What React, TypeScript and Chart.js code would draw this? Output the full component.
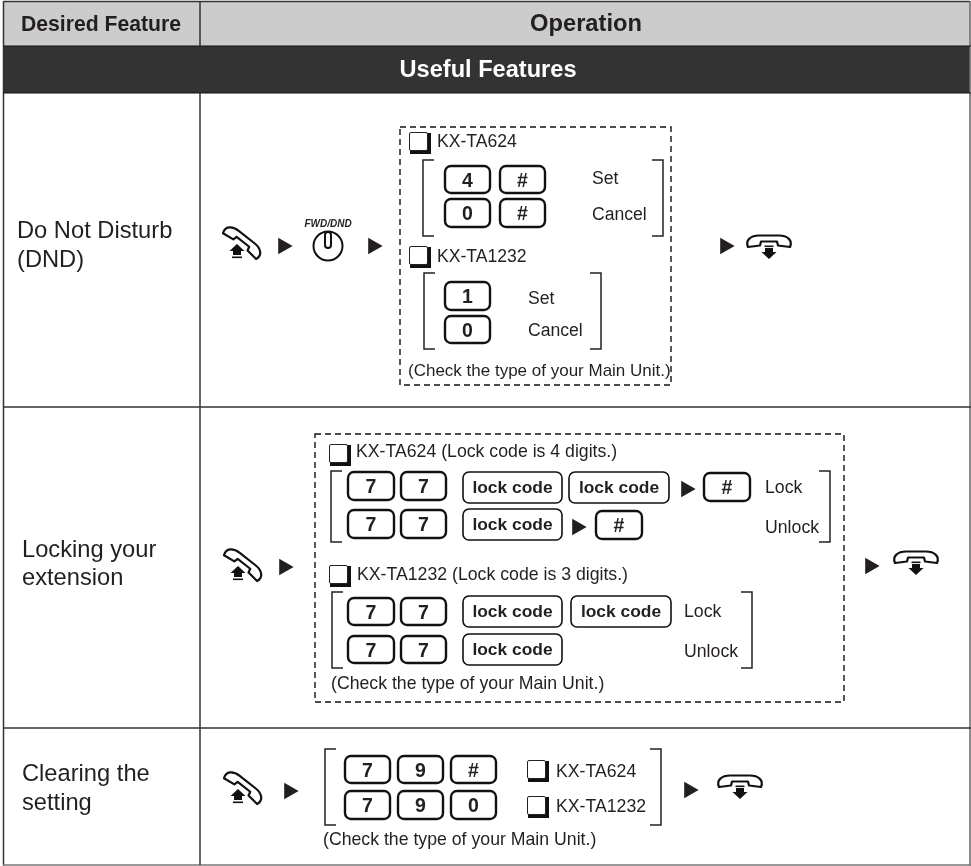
import React, { useEffect, useRef } from "react";
import { Chart, registerables } from "chart.js";

Chart.register(...registerables);

// ---- content ----
const columnTitles = ["Desired Feature", "Operation"];
const sectionTitle = "Useful Features";
const featureLabels = [
  ["Do Not Disturb", "(DND)"],
  ["Locking your", "extension"],
  ["Clearing the", "setting"],
];
const modelNames = ["KX-TA624", "KX-TA1232"];
const lockModelNotes = ["KX-TA624 (Lock code is 4 digits.)", "KX-TA1232 (Lock code is 3 digits.)"];
const actionWords = ["Set", "Cancel", "Lock", "Unlock"];
const checkNote = "(Check the type of your Main Unit.)";
const lockCodeLabel = "lock code";
const buttonLabel = "FWD/DND";

// step arrows between operation stages
const stepArrowX = [283, 373, 725, 284, 686, 577, 870, 289, 689];
const stepArrowY = [246, 246, 246, 567, 489, 527, 566, 791, 790];

const INK = "#231f20";
const SANS = '"Liberation Sans", Arial, sans-serif';

function App() {
  const ref = useRef<HTMLCanvasElement>(null);
  useEffect(() => {
    const tablePlugin = {
      id: "tablePlugin",
      beforeDatasetsDraw(chart: any) {
        const c: CanvasRenderingContext2D = chart.ctx;
        const X = (v: number) => chart.scales.x.getPixelForValue(v);
        const Y = (v: number) => chart.scales.y.getPixelForValue(v);

        const text = (s: string, x: number, y: number, font: string, align: CanvasTextAlign = "left", color = INK) => {
          c.font = font;
          c.fillStyle = color;
          c.textAlign = align;
          c.textBaseline = "alphabetic";
          c.fillText(s, X(x), Y(y));
        };
        const line = (x1: number, y1: number, x2: number, y2: number, w = 1.5, col = "#333") => {
          c.beginPath();
          c.strokeStyle = col;
          c.lineWidth = w;
          c.moveTo(X(x1), Y(y1));
          c.lineTo(X(x2), Y(y2));
          c.stroke();
        };
        const rect = (x: number, y: number, w: number, h: number, col: string) => {
          c.fillStyle = col;
          c.fillRect(X(x), Y(y), w, h);
        };
        const key = (s: string, x1: number, y1: number, x2: number, y2: number) => {
          c.beginPath();
          c.roundRect(X(x1), Y(y1), x2 - x1, y2 - y1, 6);
          c.strokeStyle = "#111";
          c.lineWidth = 2.4;
          c.stroke();
          text(s, (x1 + x2) / 2, (y1 + y2) / 2 + 7, `bold 19.5px ${SANS}`, "center");
        };
        const lock = (x1: number, y1: number, x2: number, y2: number) => {
          c.beginPath();
          c.roundRect(X(x1), Y(y1), x2 - x1, y2 - y1, 6);
          c.strokeStyle = "#111";
          c.lineWidth = 1.6;
          c.stroke();
          text(lockCodeLabel, (x1 + x2) / 2, (y1 + y2) / 2 + 5, `bold 17.4px ${SANS}`, "center");
        };
        const check = (x1: number, y1: number) => {
          rect(x1 + 1, y1 + 1, 21, 21, "#111");
          c.fillStyle = "#fff";
          c.strokeStyle = "#222";
          c.lineWidth = 1;
          c.beginPath();
          c.roundRect(X(x1) + 0.5, Y(y1) + 0.5, 18, 18, 1.5);
          c.fill();
          c.stroke();
        };
        const bracket = (x1: number, x2: number, y1: number, y2: number, dir: number) => {
          const arm = 11 * dir;
          const outer = dir > 0 ? x1 : x2;
          c.beginPath();
          c.strokeStyle = "#222";
          c.lineWidth = 1.5;
          c.moveTo(X(outer + arm), Y(y1));
          c.lineTo(X(outer), Y(y1));
          c.lineTo(X(outer), Y(y2));
          c.lineTo(X(outer + arm), Y(y2));
          c.stroke();
        };
        const brackets = (xl: number, xr: number, y1: number, y2: number) => {
          bracket(xl, xl + 11, y1, y2, 1);
          bracket(xr - 11, xr, y1, y2, -1);
        };
        const dashed = (x1: number, y1: number, x2: number, y2: number) => {
          c.save();
          c.setLineDash([6, 4]);
          c.strokeStyle = "#111";
          c.lineWidth = 1.4;
          c.strokeRect(X(x1), Y(y1), x2 - x1, y2 - y1);
          c.restore();
        };
        const handsetShape = () => {
          c.beginPath();
          c.moveTo(-21, 4);
          c.bezierCurveTo(-24, -3, -18, -7.5, -10, -7.5);
          c.lineTo(10, -7.5);
          c.bezierCurveTo(18, -7.5, 24, -3, 21, 4);
          c.lineTo(9, 2.5);
          c.lineTo(8, -1.5);
          c.lineTo(-8, -1.5);
          c.lineTo(-9, 2.5);
          c.closePath();
          c.fillStyle = "#fff";
          c.strokeStyle = "#111";
          c.lineWidth = 2.2;
          c.lineJoin = "round";
          c.fill();
          c.stroke();
        };
        const liftPhone = (cx: number, cy: number) => {
          c.save();
          c.translate(X(cx), Y(cy));
          c.rotate((38 * Math.PI) / 180);
          handsetShape();
          c.restore();
          c.fillStyle = "#111";
          const ax = X(cx - 5);
          const ay = Y(cy + 1);
          c.beginPath();
          c.moveTo(ax, ay);
          c.lineTo(ax + 7.5, ay + 7);
          c.lineTo(ax + 4, ay + 7);
          c.lineTo(ax + 4, ay + 11);
          c.lineTo(ax - 4, ay + 11);
          c.lineTo(ax - 4, ay + 7);
          c.lineTo(ax - 7.5, ay + 7);
          c.closePath();
          c.fill();
          c.fillRect(ax - 5, ay + 12.5, 10, 1.6);
        };
        const hangPhone = (cx: number, cy: number) => {
          c.save();
          c.translate(X(cx), Y(cy));
          handsetShape();
          c.restore();
          c.fillStyle = "#111";
          const ax = X(cx);
          const ay = Y(cy);
          c.fillRect(ax - 4.5, ay + 2.5, 9, 1.6);
          c.beginPath();
          c.moveTo(ax - 4, ay + 5);
          c.lineTo(ax + 4, ay + 5);
          c.lineTo(ax + 4, ay + 9);
          c.lineTo(ax + 7.5, ay + 9);
          c.lineTo(ax, ay + 16);
          c.lineTo(ax - 7.5, ay + 9);
          c.lineTo(ax - 4, ay + 9);
          c.closePath();
          c.fill();
        };

        // table frame
        c.fillStyle = "#fff";
        c.fillRect(0, 0, 971, 866);
        rect(4, 2, 966, 44, "#cccccc");
        rect(4, 46, 966, 47, "#333333");
        line(3.5, 1.5, 970, 1.5);
        line(3.5, 1, 3.5, 865.5);
        line(970, 1, 970, 865.5, 1.5, "#666");
        line(3, 865, 971, 865, 1.5, "#777");
        line(3, 46, 971, 46, 1.2, "#111");
        line(3, 93, 971, 93, 1.2, "#111");
        line(200, 1, 200, 46);
        line(200, 93, 200, 865);
        line(3, 407, 971, 407, 1.5);
        line(3, 728, 971, 728, 1.5);

        // headers
        text(columnTitles[0], 101, 31, `bold 21.2px ${SANS}`, "center");
        text(columnTitles[1], 586, 31, `bold 23.7px ${SANS}`, "center");
        text(sectionTitle, 488, 77, `bold 23.6px ${SANS}`, "center", "#fff");

        // first column
        const f = `23.7px ${SANS}`;
        text(featureLabels[0][0], 17, 238, f);
        text(featureLabels[0][1], 17, 267, f);
        text(featureLabels[1][0], 22, 557, f);
        text(featureLabels[1][1], 22, 585, f);
        text(featureLabels[2][0], 22, 781, f);
        text(featureLabels[2][1], 22, 810, f);

        const t = `17.6px ${SANS}`;

        // Do Not Disturb
        liftPhone(242, 243);
        text(buttonLabel, 328, 227, `italic bold 10px ${SANS}`, "center");
        c.beginPath();
        c.arc(X(328), Y(246), 14.5, 0, Math.PI * 2);
        c.strokeStyle = "#111";
        c.lineWidth = 2;
        c.stroke();
        c.beginPath();
        c.roundRect(X(325), Y(232), 6, 16, 3);
        c.fillStyle = "#fff";
        c.fill();
        c.stroke();
        dashed(400, 127, 671, 385);
        check(409, 132);
        text(modelNames[0], 437, 147, t);
        brackets(423, 663, 160, 236);
        key("4", 445, 166, 490, 193);
        key("#", 500, 166, 545, 193);
        key("0", 445, 199, 490, 227);
        key("#", 500, 199, 545, 227);
        text(actionWords[0], 592, 184, t);
        text(actionWords[1], 592, 220, t);
        check(409, 246);
        text(modelNames[1], 437, 262, t);
        brackets(424, 601, 273, 349);
        key("1", 445, 282, 490, 310);
        key("0", 445, 316, 490, 343);
        text(actionWords[0], 528, 304, t);
        text(actionWords[1], 528, 336, t);
        text(checkNote, 408, 376, `17px ${SANS}`);
        hangPhone(769, 243);

        // Locking
        liftPhone(243, 565);
        dashed(315, 434, 844, 702);
        const n = `17.7px ${SANS}`;
        check(329, 444);
        text(lockModelNotes[0], 356, 457, n);
        brackets(331, 830, 471, 542);
        key("7", 348, 472, 394, 500);
        key("7", 401, 472, 446, 500);
        lock(463, 472, 562, 503);
        lock(569, 472, 669, 503);
        key("#", 704, 473, 750, 501);
        text(actionWords[2], 765, 493, n);
        key("7", 348, 510, 394, 538);
        key("7", 401, 510, 446, 538);
        lock(463, 509, 562, 540);
        key("#", 596, 511, 642, 539);
        text(actionWords[3], 765, 533, n);
        check(329, 565);
        text(lockModelNotes[1], 357, 580, n);
        brackets(332, 752, 592, 668);
        key("7", 348, 598, 394, 625);
        key("7", 401, 598, 446, 625);
        lock(463, 596, 562, 627);
        lock(571, 596, 671, 627);
        text(actionWords[2], 684, 617, n);
        key("7", 348, 636, 394, 663);
        key("7", 401, 636, 446, 663);
        lock(463, 634, 562, 665);
        text(actionWords[3], 684, 657, n);
        text(checkNote, 331, 689, n);
        hangPhone(916, 559);

        // Clearing
        liftPhone(243, 788);
        brackets(325, 661, 749, 825);
        key("7", 345, 756, 390, 783);
        key("9", 398, 756, 443, 783);
        key("#", 451, 756, 496, 783);
        key("7", 345, 791, 390, 819);
        key("9", 398, 791, 443, 819);
        key("0", 451, 791, 496, 819);
        check(527, 760);
        text(modelNames[0], 556, 777, n);
        check(527, 796);
        text(modelNames[1], 556, 812, n);
        text(checkNote, 323, 845, n);
        hangPhone(740, 783);
      },
    };

    const chart = new Chart(ref.current!, {
      type: "scatter",
      data: {
        datasets: [
          {
            label: "steps",
            data: stepArrowX.map((x, i) => ({ x, y: stepArrowY[i] })),
            pointStyle: "triangle",
            rotation: 90,
            pointRadius: 9.6,
            pointBorderWidth: 0,
            backgroundColor: INK,
            borderWidth: 0,
          },
        ],
      },
      options: {
        animation: false,
        responsive: false,
        layout: { padding: 0, autoPadding: false },
        plugins: { legend: { display: false }, tooltip: { enabled: false }, title: { display: false } },
        scales: {
          x: { type: "linear", min: 0, max: 971, display: false },
          y: { type: "linear", min: 0, max: 866, reverse: true, display: false },
        },
      },
      plugins: [tablePlugin],
    } as any);
    return () => chart.destroy();
  }, []);
  return (
    <canvas
      ref={ref}
      width={971}
      height={866}
      style={{ position: "absolute", left: 0, top: 0, display: "block", width: 971, height: 866 }}
    />
  );
}

export default App;
